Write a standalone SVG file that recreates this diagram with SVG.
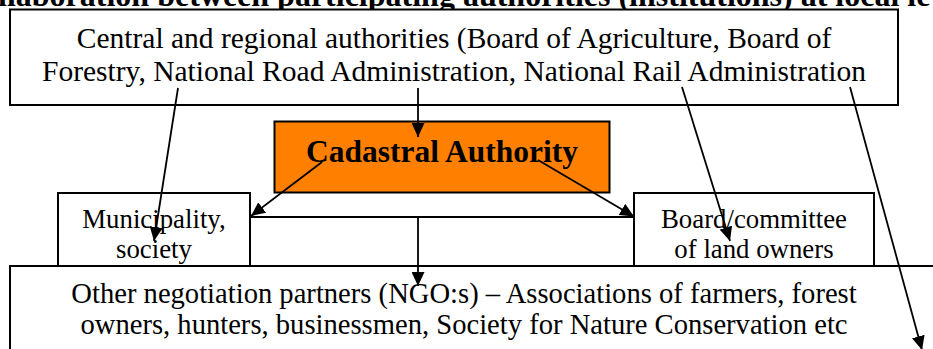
<svg xmlns="http://www.w3.org/2000/svg" width="933" height="349" viewBox="0 0 933 349">
  <style>
    .box { fill: #ffffff; stroke: #000000; stroke-width: 2; }
    .key { fill: #ff8000; stroke: #000000; stroke-width: 2; }
    .txt { font-family: "Liberation Serif", "Times New Roman", serif; fill: #000000; }
    .big { font-size: 29.5px; text-anchor: middle; }
    .low { font-size: 28.6px; text-anchor: middle; }
    .mid { font-size: 26.8px; text-anchor: middle; }
    .head { font-size: 31.5px; font-weight: bold; text-anchor: middle; }
    .title { font-size: 32px; font-weight: bold; }
    .link { fill: none; stroke: #000000; stroke-width: 1.8; }
    .arrow { marker-end: url(#head); }
  </style>
  <defs>
    <marker id="head" markerUnits="userSpaceOnUse" markerWidth="15" markerHeight="13" refX="14" refY="6.5" orient="auto">
      <path d="M0,0 L14,6.5 L0,13 z" fill="#000000"/>
    </marker>
  </defs>

  <rect width="933" height="349" fill="#ffffff"/>

  <!-- heading, clipped by the top of the page -->
  <text class="txt title" x="-2" y="6">llaboration between participating authorities (institutions) at local le</text>

  <g id="central">
    <rect class="box" x="10" y="9.5" width="888" height="95.5"/>
    <text class="txt big" x="454" y="48">Central and regional authorities (Board of Agriculture, Board of</text>
    <text class="txt big" x="454" y="81">Forestry, National Road Administration, National Rail Administration</text>
  </g>

  <g id="cadastral">
    <rect class="key" x="274.5" y="121.5" width="335" height="71"/>
    <text class="txt head" x="442" y="162">Cadastral Authority</text>
  </g>

  <g id="partners">
    <rect class="box" x="10" y="266" width="940" height="120"/>
    <text class="txt low" x="464" y="303">Other negotiation partners (NGO:s) – Associations of farmers, forest</text>
    <text class="txt low" x="464" y="334">owners, hunters, businessmen, Society for Nature Conservation etc</text>
  </g>

  <g id="municipality">
    <rect class="box" x="58" y="193" width="192" height="73"/>
    <text class="txt mid" x="154" y="228">Municipality,</text>
    <text class="txt mid" x="154" y="257.5">society</text>
  </g>

  <g id="landowners">
    <rect class="box" x="634" y="193" width="240" height="73"/>
    <text class="txt mid" x="754" y="228">Board/committee</text>
    <text class="txt mid" x="754" y="257.5">of land owners</text>
  </g>

  <g id="connectors">
    <line class="link arrow" x1="178" y1="88" x2="154" y2="241"/>
    <line class="link arrow" x1="418" y1="88" x2="418" y2="137"/>
    <line class="link arrow" x1="682" y1="87" x2="730" y2="241"/>
    <line class="link arrow" x1="850" y1="87" x2="922" y2="350"/>
    <line class="link arrow" x1="322" y1="162" x2="251" y2="216"/>
    <line class="link arrow" x1="538" y1="160" x2="634" y2="216.5"/>
    <line class="link" x1="250" y1="217" x2="634" y2="217"/>
    <line class="link arrow" x1="418" y1="217" x2="418" y2="286"/>
  </g>
</svg>
